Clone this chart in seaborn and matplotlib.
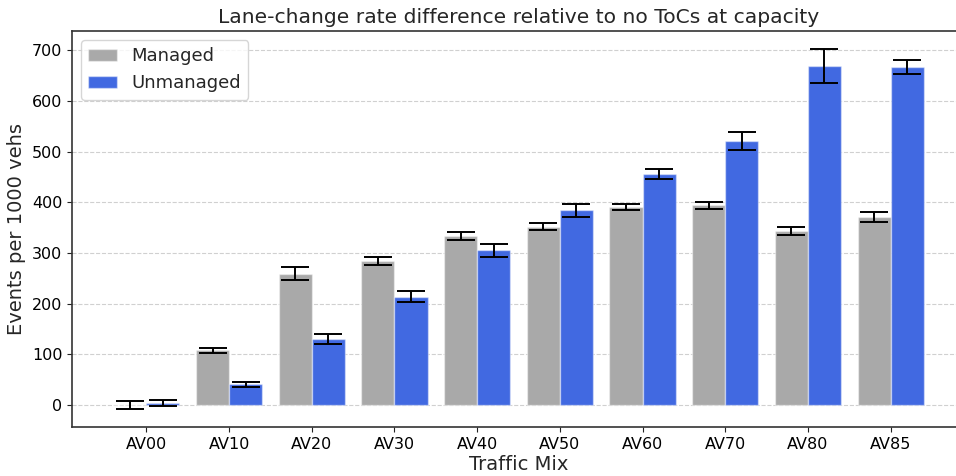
import numpy as np
import pandas as pd
import matplotlib
matplotlib.use("Agg")
import matplotlib.pyplot as plt
import seaborn as sns

# Traffic mixes and lane-change rate differences (events per 1000 vehicles)
mixes = ["AV00", "AV10", "AV20", "AV30", "AV40", "AV50", "AV60", "AV70", "AV80", "AV85"]
managed = [0, 108, 259, 284, 333, 352, 391, 394, 343, 371]
managed_err = [8, 5, 13, 8, 8, 7.5, 6, 7.5, 8, 9]
unmanaged = [4, 41, 130, 214, 305, 384, 455, 521, 669, 667]
unmanaged_err = [6.5, 5.2, 10, 10, 13, 12.5, 10, 17, 33.5, 14.5]
groups = ["Managed", "Unmanaged"]
colors = ["darkgray", "royalblue"]

df = pd.DataFrame({
    "mix": mixes * 2,
    "group": [groups[0]] * len(mixes) + [groups[1]] * len(mixes),
    "rate": managed + unmanaged,
})
errs = {groups[0]: managed_err, groups[1]: unmanaged_err}

sns.set_style("ticks")
plt.rcParams["font.family"] = ["DejaVu Sans"]

fig = plt.figure(figsize=(9.56, 4.76), dpi=100)
ax = fig.add_axes([72 / 956, 49 / 476, 893 / 956, 396 / 476])

sns.barplot(data=df, x="mix", y="rate", hue="group", order=mixes,
            hue_order=groups, palette=colors, saturation=1, errorbar=None,
            width=0.8, edgecolor=(1, 1, 1, 0.45), linewidth=1, ax=ax)

# error bars at the centre of each bar
for cont, g in zip(ax.containers, groups):
    xs = [p.get_x() + p.get_width() / 2 for p in cont]
    ys = [p.get_height() for p in cont]
    ax.errorbar(xs, ys, yerr=errs[g], fmt="none", ecolor="black",
                elinewidth=1.4, capsize=10, capthick=1.4, zorder=5)

ax.set_xlim(-0.9, 9.9)
ax.set_axisbelow(True)
ax.yaxis.grid(True, linestyle="--", color="#d0d0d0", linewidth=0.8)
ax.set_title("Lane-change rate difference relative to no ToCs at capacity",
             fontsize=14.6)
ax.set_xlabel("Traffic Mix", fontsize=14, labelpad=2)
ax.set_ylabel("Events per 1000 vehs", fontsize=14)
ax.tick_params(axis="both", labelsize=11.5, colors="#222222", labelcolor="black")
for s in ax.spines.values():
    s.set_color("#333333")
    s.set_linewidth(1.2)
ax.spines["right"].set_visible(False)

ax.legend(loc="upper left", fontsize=13, frameon=True, handlelength=1.6)

fig.savefig("out.png", dpi=100)
